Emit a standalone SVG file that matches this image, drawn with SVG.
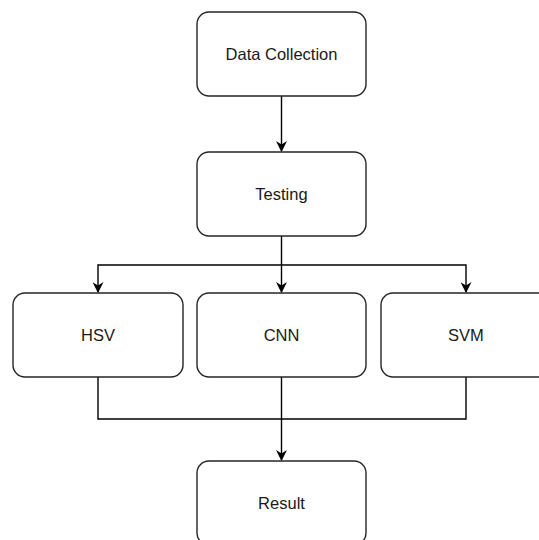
<svg xmlns="http://www.w3.org/2000/svg" width="539" height="540" viewBox="0 0 539 540">
  <style>
    .box { fill: #ffffff; stroke: #262626; stroke-width: 1.4; }
    .label { font-family: "Liberation Sans", Arial, Helvetica, sans-serif; font-size: 16.5px; fill: #1a1a1a; text-anchor: middle; dominant-baseline: central; }
    .wire { fill: none; stroke: #000000; stroke-width: 1.4; }
  </style>
  <defs>
    <!-- classic notched arrowhead shared by all connectors -->
    <marker id="arrow" viewBox="0 0 10 10" refX="9" refY="5" markerWidth="11" markerHeight="11" markerUnits="userSpaceOnUse" orient="auto">
      <path d="M0,0 L10,5 L0,10 L3,5 Z" fill="#000000"/>
    </marker>
  </defs>
  <rect width="539" height="540" fill="#ffffff"/>

  <g id="connectors">
    <path class="wire" d="M281.5,96 V151" marker-end="url(#arrow)"/>
    <path class="wire" d="M281.5,236 V265 H98 V292" marker-end="url(#arrow)"/>
    <path class="wire" d="M281.5,265 V292" marker-end="url(#arrow)"/>
    <path class="wire" d="M281.5,265 H466 V292" marker-end="url(#arrow)"/>
    <path class="wire" d="M98,377 V419 H466 V377"/>
    <path class="wire" d="M281.5,377 V460" marker-end="url(#arrow)"/>
  </g>

  <g id="data-collection">
    <rect class="box" x="197" y="12" width="169" height="84" rx="12"/>
    <text class="label" x="281.5" y="54">Data Collection</text>
  </g>
  <g id="testing">
    <rect class="box" x="197" y="152" width="169" height="84" rx="12"/>
    <text class="label" x="281.5" y="194">Testing</text>
  </g>
  <g id="hsv">
    <rect class="box" x="13" y="293" width="170" height="84" rx="12"/>
    <text class="label" x="98" y="335">HSV</text>
  </g>
  <g id="cnn">
    <rect class="box" x="197" y="293" width="169" height="84" rx="12"/>
    <text class="label" x="281.5" y="335">CNN</text>
  </g>
  <g id="svm">
    <rect class="box" x="381" y="293" width="170" height="84" rx="12"/>
    <text class="label" x="466" y="335">SVM</text>
  </g>
  <g id="result">
    <rect class="box" x="197" y="461" width="169" height="84" rx="12"/>
    <text class="label" x="281.5" y="503">Result</text>
  </g>
</svg>
